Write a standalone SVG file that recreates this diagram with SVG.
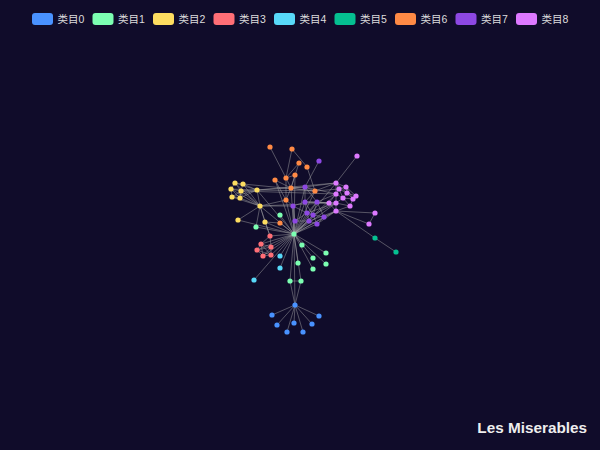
<svg xmlns="http://www.w3.org/2000/svg" width="600" height="450" viewBox="0 0 600 450">
<style>
.lg{font-family:"Liberation Sans","Noto Sans CJK SC",sans-serif;font-size:10.5px;fill:#dddddd}
.ttl{font-family:"Liberation Sans",Arial,sans-serif;font-size:15.3px;font-weight:bold;fill:#eeeeee}
.e line{stroke:#aaaaaa;stroke-opacity:0.58;stroke-width:0.8}
.n circle{r:2.6px}
.c0{fill:#4992ff}.c1{fill:#7cffb2}.c2{fill:#fddd60}.c3{fill:#ff6e76}.c4{fill:#58d9f9}.c5{fill:#05c091}.c6{fill:#ff8a45}.c7{fill:#8d48e3}.c8{fill:#dd79ff}
</style>
<rect width="600" height="450" fill="#100c2a"/>
<g id="legend">
<rect class="c0" x="32" y="13" width="21" height="12" rx="3"/><text class="lg" x="57.5" y="23">类目0</text>
<rect class="c1" x="92.5" y="13" width="21" height="12" rx="3"/><text class="lg" x="118" y="23">类目1</text>
<rect class="c2" x="153" y="13" width="21" height="12" rx="3"/><text class="lg" x="178.5" y="23">类目2</text>
<rect class="c3" x="213.5" y="13" width="21" height="12" rx="3"/><text class="lg" x="239" y="23">类目3</text>
<rect class="c4" x="274" y="13" width="21" height="12" rx="3"/><text class="lg" x="299.5" y="23">类目4</text>
<rect class="c5" x="334.5" y="13" width="21" height="12" rx="3"/><text class="lg" x="360" y="23">类目5</text>
<rect class="c6" x="395" y="13" width="21" height="12" rx="3"/><text class="lg" x="420.5" y="23">类目6</text>
<rect class="c7" x="455.5" y="13" width="21" height="12" rx="3"/><text class="lg" x="481" y="23">类目7</text>
<rect class="c8" x="516" y="13" width="21" height="12" rx="3"/><text class="lg" x="541.5" y="23">类目8</text>
</g>
<g id="connectors" class="e">
<line x1="294" y1="234" x2="280" y2="215"/><line x1="294" y1="234" x2="256" y2="227"/><line x1="294" y1="234" x2="302" y2="245"/><line x1="294" y1="234" x2="326" y2="253"/><line x1="294" y1="234" x2="313" y2="258"/><line x1="294" y1="234" x2="298" y2="263"/><line x1="294" y1="234" x2="326" y2="264"/><line x1="294" y1="234" x2="313" y2="269"/><line x1="294" y1="234" x2="290" y2="281"/><line x1="294" y1="234" x2="301" y2="281"/><line x1="294" y1="234" x2="295" y2="305"/>
<line x1="294" y1="234" x2="270" y2="236"/><line x1="294" y1="234" x2="261" y2="244"/><line x1="294" y1="234" x2="271" y2="247"/><line x1="294" y1="234" x2="257" y2="250"/><line x1="294" y1="234" x2="271" y2="255"/><line x1="294" y1="234" x2="263" y2="256"/>
<line x1="294" y1="234" x2="280" y2="256"/><line x1="294" y1="234" x2="280" y2="268"/><line x1="294" y1="234" x2="254" y2="280"/>
<line x1="294" y1="234" x2="257" y2="190"/><line x1="294" y1="234" x2="260" y2="206"/><line x1="294" y1="234" x2="265" y2="222"/><line x1="294" y1="234" x2="238" y2="220"/>
<line x1="294" y1="234" x2="295" y2="175"/><line x1="294" y1="234" x2="291" y2="188"/><line x1="294" y1="234" x2="315" y2="191"/><line x1="294" y1="234" x2="286" y2="200"/><line x1="294" y1="234" x2="280" y2="223"/><line x1="294" y1="234" x2="275" y2="180"/>
<line x1="294" y1="234" x2="305" y2="187"/><line x1="294" y1="234" x2="305" y2="202"/><line x1="294" y1="234" x2="317" y2="202"/><line x1="294" y1="234" x2="293" y2="206"/><line x1="294" y1="234" x2="307" y2="213"/><line x1="294" y1="234" x2="313" y2="215"/><line x1="294" y1="234" x2="324" y2="217"/><line x1="294" y1="234" x2="309" y2="221"/><line x1="294" y1="234" x2="295" y2="221"/><line x1="294" y1="234" x2="317" y2="224"/>
<line x1="294" y1="234" x2="329" y2="203"/><line x1="294" y1="234" x2="336" y2="203"/><line x1="294" y1="234" x2="336" y2="211"/><line x1="294" y1="234" x2="336" y2="183"/><line x1="294" y1="234" x2="336" y2="194"/>
<line x1="295" y1="305" x2="272" y2="315"/><line x1="295" y1="305" x2="319" y2="316"/><line x1="295" y1="305" x2="277" y2="325"/><line x1="295" y1="305" x2="294" y2="323"/><line x1="295" y1="305" x2="312" y2="324"/><line x1="295" y1="305" x2="287" y2="332"/><line x1="295" y1="305" x2="303" y2="332"/>
<line x1="295" y1="305" x2="290" y2="281"/><line x1="295" y1="305" x2="301" y2="281"/><line x1="290" y1="281" x2="301" y2="281"/>
<line x1="270" y1="236" x2="261" y2="244"/><line x1="270" y1="236" x2="271" y2="247"/><line x1="261" y1="244" x2="271" y2="247"/><line x1="261" y1="244" x2="257" y2="250"/><line x1="271" y1="247" x2="271" y2="255"/><line x1="257" y1="250" x2="263" y2="256"/><line x1="263" y1="256" x2="271" y2="255"/><line x1="261" y1="244" x2="263" y2="256"/><line x1="271" y1="247" x2="257" y2="250"/><line x1="257" y1="250" x2="271" y2="255"/><line x1="261" y1="244" x2="271" y2="255"/><line x1="271" y1="247" x2="263" y2="256"/><line x1="270" y1="236" x2="260" y2="206"/><line x1="270" y1="236" x2="265" y2="222"/>
<line x1="235" y1="183" x2="243" y2="184"/><line x1="235" y1="183" x2="231" y2="189"/><line x1="235" y1="183" x2="241" y2="191"/><line x1="243" y1="184" x2="241" y2="191"/><line x1="231" y1="189" x2="241" y2="191"/><line x1="231" y1="189" x2="232" y2="197"/><line x1="241" y1="191" x2="240" y2="198"/><line x1="232" y1="197" x2="240" y2="198"/><line x1="231" y1="189" x2="240" y2="198"/><line x1="241" y1="191" x2="232" y2="197"/>
<line x1="235" y1="183" x2="257" y2="190"/><line x1="243" y1="184" x2="257" y2="190"/><line x1="241" y1="191" x2="257" y2="190"/><line x1="231" y1="189" x2="257" y2="190"/><line x1="232" y1="197" x2="257" y2="190"/><line x1="240" y1="198" x2="257" y2="190"/>
<line x1="235" y1="183" x2="260" y2="206"/><line x1="241" y1="191" x2="260" y2="206"/><line x1="240" y1="198" x2="260" y2="206"/><line x1="232" y1="197" x2="260" y2="206"/><line x1="231" y1="189" x2="260" y2="206"/><line x1="243" y1="184" x2="260" y2="206"/><line x1="257" y1="190" x2="260" y2="206"/>
<line x1="260" y1="206" x2="238" y2="220"/><line x1="260" y1="206" x2="265" y2="222"/><line x1="260" y1="206" x2="256" y2="227"/><line x1="257" y1="190" x2="315" y2="191"/><line x1="257" y1="190" x2="336" y2="183"/><line x1="257" y1="190" x2="305" y2="187"/><line x1="260" y1="206" x2="293" y2="206"/><line x1="260" y1="206" x2="286" y2="200"/><line x1="260" y1="206" x2="329" y2="203"/><line x1="241" y1="191" x2="336" y2="194"/><line x1="243" y1="184" x2="315" y2="191"/>
<line x1="270" y1="147" x2="286" y2="178"/><line x1="292" y1="149" x2="286" y2="178"/><line x1="292" y1="149" x2="307" y2="167"/><line x1="299" y1="163" x2="291" y2="188"/><line x1="299" y1="163" x2="286" y2="178"/><line x1="307" y1="167" x2="315" y2="191"/><line x1="295" y1="175" x2="291" y2="188"/><line x1="295" y1="175" x2="286" y2="178"/><line x1="286" y1="178" x2="291" y2="188"/><line x1="275" y1="180" x2="291" y2="188"/><line x1="275" y1="180" x2="286" y2="200"/><line x1="291" y1="188" x2="315" y2="191"/><line x1="291" y1="188" x2="305" y2="187"/><line x1="315" y1="191" x2="336" y2="183"/><line x1="315" y1="191" x2="305" y2="187"/><line x1="315" y1="191" x2="339" y2="189"/><line x1="315" y1="191" x2="305" y2="202"/><line x1="286" y1="200" x2="291" y2="188"/><line x1="286" y1="200" x2="293" y2="206"/><line x1="286" y1="178" x2="286" y2="200"/><line x1="280" y1="223" x2="265" y2="222"/>
<line x1="319" y1="161" x2="305" y2="187"/><line x1="305" y1="187" x2="305" y2="202"/><line x1="305" y1="187" x2="317" y2="202"/><line x1="305" y1="202" x2="317" y2="202"/><line x1="305" y1="202" x2="293" y2="206"/><line x1="305" y1="202" x2="307" y2="213"/><line x1="317" y1="202" x2="313" y2="215"/><line x1="317" y1="202" x2="324" y2="217"/><line x1="293" y1="206" x2="307" y2="213"/><line x1="293" y1="206" x2="295" y2="221"/><line x1="307" y1="213" x2="313" y2="215"/><line x1="307" y1="213" x2="309" y2="221"/><line x1="313" y1="215" x2="324" y2="217"/><line x1="313" y1="215" x2="317" y2="224"/><line x1="309" y1="221" x2="317" y2="224"/><line x1="309" y1="221" x2="295" y2="221"/><line x1="324" y1="217" x2="317" y2="224"/><line x1="307" y1="213" x2="295" y2="221"/><line x1="305" y1="202" x2="313" y2="215"/><line x1="317" y1="202" x2="307" y2="213"/>
<line x1="305" y1="187" x2="336" y2="183"/><line x1="305" y1="202" x2="329" y2="203"/><line x1="317" y1="202" x2="329" y2="203"/><line x1="317" y1="202" x2="336" y2="194"/><line x1="324" y1="217" x2="336" y2="211"/><line x1="313" y1="215" x2="336" y2="203"/><line x1="307" y1="213" x2="336" y2="203"/><line x1="317" y1="224" x2="336" y2="211"/><line x1="309" y1="221" x2="336" y2="211"/><line x1="305" y1="187" x2="336" y2="194"/><line x1="305" y1="202" x2="336" y2="203"/>
<line x1="357" y1="156" x2="336" y2="183"/><line x1="336" y1="183" x2="346" y2="187"/><line x1="336" y1="183" x2="339" y2="189"/><line x1="336" y1="183" x2="336" y2="194"/><line x1="346" y1="187" x2="339" y2="189"/><line x1="346" y1="187" x2="356" y2="196"/><line x1="346" y1="187" x2="347" y2="193"/><line x1="339" y1="189" x2="336" y2="194"/><line x1="339" y1="189" x2="347" y2="193"/><line x1="356" y1="196" x2="347" y2="193"/><line x1="356" y1="196" x2="353" y2="199"/><line x1="336" y1="194" x2="343" y2="198"/><line x1="336" y1="194" x2="329" y2="203"/><line x1="336" y1="194" x2="336" y2="203"/><line x1="347" y1="193" x2="343" y2="198"/><line x1="347" y1="193" x2="353" y2="199"/><line x1="343" y1="198" x2="353" y2="199"/><line x1="343" y1="198" x2="336" y2="203"/><line x1="343" y1="198" x2="350" y2="206"/><line x1="353" y1="199" x2="350" y2="206"/><line x1="329" y1="203" x2="336" y2="203"/><line x1="336" y1="203" x2="336" y2="211"/><line x1="350" y1="206" x2="336" y2="211"/><line x1="336" y1="203" x2="350" y2="206"/><line x1="329" y1="203" x2="336" y2="211"/><line x1="339" y1="189" x2="343" y2="198"/><line x1="336" y1="183" x2="347" y2="193"/><line x1="346" y1="187" x2="353" y2="199"/>
<line x1="336" y1="211" x2="375" y2="213"/><line x1="375" y1="213" x2="369" y2="224"/><line x1="336" y1="211" x2="369" y2="224"/><line x1="336" y1="211" x2="375" y2="238"/><line x1="375" y1="238" x2="396" y2="252"/>
</g>
<g class="n">
<g id="n-hub"><circle class="c1" cx="294" cy="234"/></g>
<g id="n-g1"><circle class="c1" cx="280" cy="215"/></g>
<g id="n-g2"><circle class="c1" cx="256" cy="227"/></g>
<g id="n-g3"><circle class="c1" cx="302" cy="245"/></g>
<g id="n-g4"><circle class="c1" cx="326" cy="253"/></g>
<g id="n-g5"><circle class="c1" cx="313" cy="258"/></g>
<g id="n-g6"><circle class="c1" cx="298" cy="263"/></g>
<g id="n-g7"><circle class="c1" cx="326" cy="264"/></g>
<g id="n-g8"><circle class="c1" cx="313" cy="269"/></g>
<g id="n-g9"><circle class="c1" cx="290" cy="281"/></g>
<g id="n-g10"><circle class="c1" cx="301" cy="281"/></g>
<g id="n-b0"><circle class="c0" cx="295" cy="305"/></g>
<g id="n-b1"><circle class="c0" cx="272" cy="315"/></g>
<g id="n-b2"><circle class="c0" cx="319" cy="316"/></g>
<g id="n-b3"><circle class="c0" cx="277" cy="325"/></g>
<g id="n-b4"><circle class="c0" cx="294" cy="323"/></g>
<g id="n-b5"><circle class="c0" cx="312" cy="324"/></g>
<g id="n-b6"><circle class="c0" cx="287" cy="332"/></g>
<g id="n-b7"><circle class="c0" cx="303" cy="332"/></g>
<g id="n-r1"><circle class="c3" cx="270" cy="236"/></g>
<g id="n-r2"><circle class="c3" cx="261" cy="244"/></g>
<g id="n-r3"><circle class="c3" cx="271" cy="247"/></g>
<g id="n-r4"><circle class="c3" cx="257" cy="250"/></g>
<g id="n-r5"><circle class="c3" cx="263" cy="256"/></g>
<g id="n-r6"><circle class="c3" cx="271" cy="255"/></g>
<g id="n-c1"><circle class="c4" cx="280" cy="256"/></g>
<g id="n-c2"><circle class="c4" cx="280" cy="268"/></g>
<g id="n-c3"><circle class="c4" cx="254" cy="280"/></g>
<g id="n-t1"><circle class="c5" cx="375" cy="238"/></g>
<g id="n-t2"><circle class="c5" cx="396" cy="252"/></g>
<g id="n-y1"><circle class="c2" cx="235" cy="183"/></g>
<g id="n-y2"><circle class="c2" cx="243" cy="184"/></g>
<g id="n-y3"><circle class="c2" cx="231" cy="189"/></g>
<g id="n-y4"><circle class="c2" cx="241" cy="191"/></g>
<g id="n-y5"><circle class="c2" cx="257" cy="190"/></g>
<g id="n-y6"><circle class="c2" cx="232" cy="197"/></g>
<g id="n-y7"><circle class="c2" cx="240" cy="198"/></g>
<g id="n-y8"><circle class="c2" cx="260" cy="206"/></g>
<g id="n-y9"><circle class="c2" cx="238" cy="220"/></g>
<g id="n-y10"><circle class="c2" cx="265" cy="222"/></g>
<g id="n-o1"><circle class="c6" cx="270" cy="147"/></g>
<g id="n-o2"><circle class="c6" cx="292" cy="149"/></g>
<g id="n-o3"><circle class="c6" cx="299" cy="163"/></g>
<g id="n-o4"><circle class="c6" cx="307" cy="167"/></g>
<g id="n-o5"><circle class="c6" cx="295" cy="175"/></g>
<g id="n-o6"><circle class="c6" cx="286" cy="178"/></g>
<g id="n-o7"><circle class="c6" cx="275" cy="180"/></g>
<g id="n-o8"><circle class="c6" cx="291" cy="188"/></g>
<g id="n-o9"><circle class="c6" cx="315" cy="191"/></g>
<g id="n-o10"><circle class="c6" cx="286" cy="200"/></g>
<g id="n-o11"><circle class="c6" cx="280" cy="223"/></g>
<g id="n-p1"><circle class="c7" cx="319" cy="161"/></g>
<g id="n-p2"><circle class="c7" cx="305" cy="187"/></g>
<g id="n-p3"><circle class="c7" cx="305" cy="202"/></g>
<g id="n-p4"><circle class="c7" cx="317" cy="202"/></g>
<g id="n-p5"><circle class="c7" cx="293" cy="206"/></g>
<g id="n-p6"><circle class="c7" cx="307" cy="213"/></g>
<g id="n-p7"><circle class="c7" cx="313" cy="215"/></g>
<g id="n-p8"><circle class="c7" cx="324" cy="217"/></g>
<g id="n-p9"><circle class="c7" cx="309" cy="221"/></g>
<g id="n-p10"><circle class="c7" cx="295" cy="221"/></g>
<g id="n-p11"><circle class="c7" cx="317" cy="224"/></g>
<g id="n-k1"><circle class="c8" cx="357" cy="156"/></g>
<g id="n-k2"><circle class="c8" cx="336" cy="183"/></g>
<g id="n-k3"><circle class="c8" cx="346" cy="187"/></g>
<g id="n-k4"><circle class="c8" cx="339" cy="189"/></g>
<g id="n-k5"><circle class="c8" cx="356" cy="196"/></g>
<g id="n-k6"><circle class="c8" cx="336" cy="194"/></g>
<g id="n-k7"><circle class="c8" cx="347" cy="193"/></g>
<g id="n-k8"><circle class="c8" cx="343" cy="198"/></g>
<g id="n-k9"><circle class="c8" cx="353" cy="199"/></g>
<g id="n-k10"><circle class="c8" cx="329" cy="203"/></g>
<g id="n-k11"><circle class="c8" cx="336" cy="203"/></g>
<g id="n-k12"><circle class="c8" cx="350" cy="206"/></g>
<g id="n-k13"><circle class="c8" cx="336" cy="211"/></g>
<g id="n-k14"><circle class="c8" cx="375" cy="213"/></g>
<g id="n-k15"><circle class="c8" cx="369" cy="224"/></g>
</g>
<text class="ttl" x="587" y="433" text-anchor="end">Les Miserables</text>
</svg>
